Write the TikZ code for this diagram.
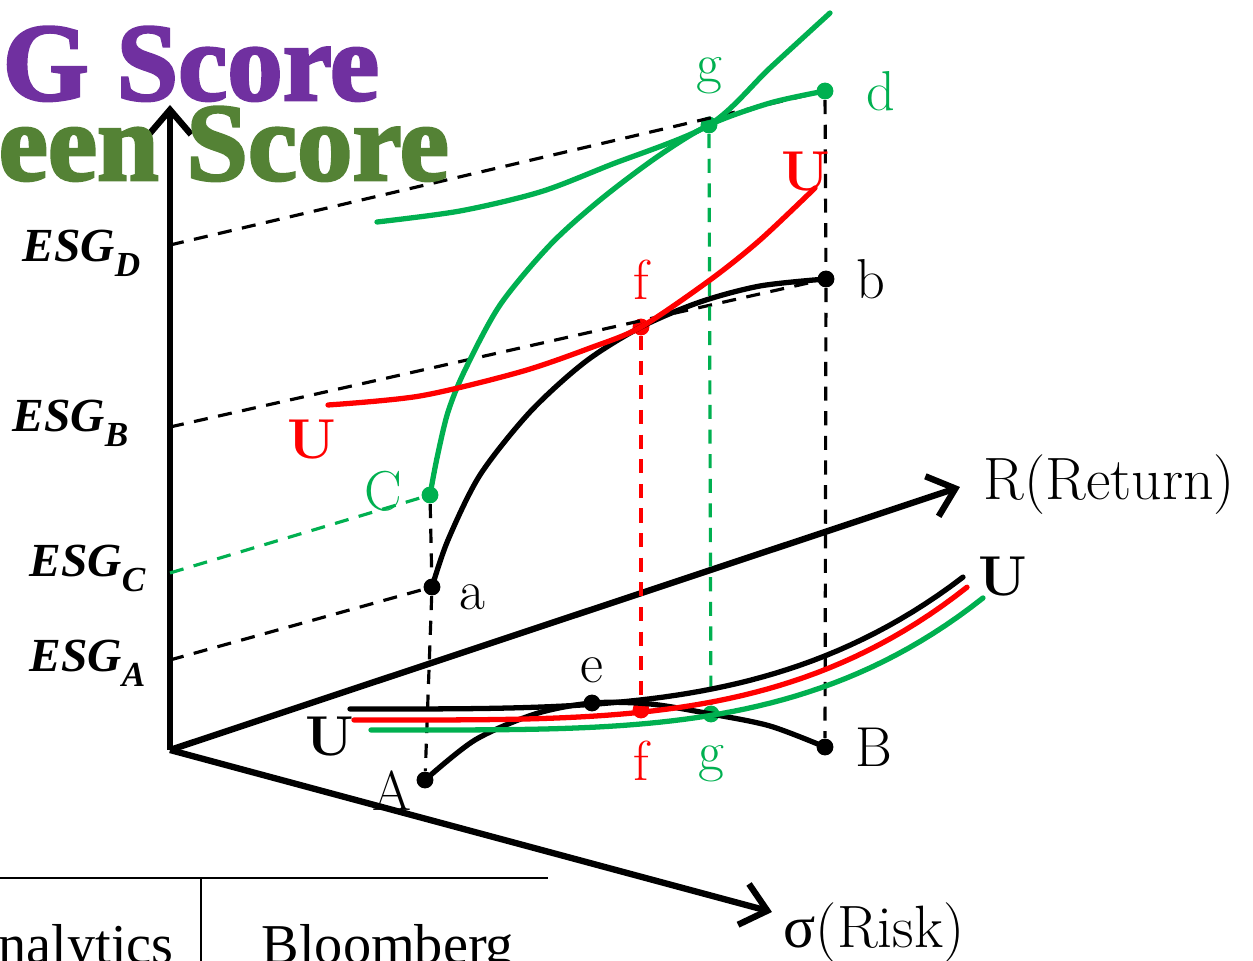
\documentclass[tikz,border=0pt]{standalone}
\usepackage{amsmath,amssymb}
\usepackage{fontspec}
\usepackage{tikz}
\usetikzlibrary{positioning, arrows.meta}
\newfontfamily\posterfont{Liberation Serif}[FakeBold=2.5]
\newfontfamily\timesfont{Liberation Serif}
\definecolor{esggreen}{RGB}{0,176,80}
\definecolor{esgred}{RGB}{255,0,0}
\definecolor{titlepurple}{RGB}{112,48,160}
\definecolor{titlegreen}{RGB}{84,130,53}
\newcommand{\esglevel}[1]{\timesfont\bfseries\itshape ESG\raisebox{-0.3em}{\fontsize{10}{10}\selectfont #1}}
\tikzset{
  axis/.style={line width=1.8pt, -{Straight Barb[length=7pt,width=12pt,line width=1.8pt]}},
  curve/.style={line width=1.5pt, line cap=round},
  guide/.style={line width=0.9pt, dash pattern=on 4pt off 3pt},
  dot/.style={circle, fill, inner sep=0pt, minimum size=4.8pt},
  ptlabel/.style={font=\fontsize{16}{18}\selectfont, inner sep=0pt},
  axislabel/.style={font=\fontsize{17}{19}\selectfont, inner sep=0pt, anchor=base west},
  ulabel/.style={font=\fontsize{16}{18}\selectfont\bfseries, inner sep=0pt},
  esglabel/.style={font=\fontsize{13.5}{15}\selectfont, inner sep=0pt, anchor=base east},
  title/.style={font=\posterfont\bfseries\fontsize{31.5}{34}\selectfont, inner sep=0pt, anchor=base west},
}

\begin{document}
\begin{tikzpicture}[x=0.01cm, y=-0.01cm, node distance=5pt]
  \useasboundingbox (0,0) rectangle (1253,961);

  % axes
  \coordinate (O) at (170,750);
  \coordinate (zEnd) at (170,105);
  \coordinate (rEnd) at (960,487);
  \coordinate (sEnd) at (772,912);
  \draw[axis] (O) -- (zEnd);
  \draw[axis] (O) -- (rEnd);
  \draw[axis] (O) -- (sEnd);
  \node[axislabel] (rLabel) at (983,500) {R(Return)};
  \node[axislabel] (sLabel) at (783,948) {{\timesfont σ}(Risk)};

  % ESG levels on the vertical axis
  \coordinate (esgD) at (170,245);
  \coordinate (esgB) at (170,427);
  \coordinate (esgC) at (170,573);
  \coordinate (esgA) at (170,660);
  \node[esglabel] (esgDLabel) at (141,262) {\esglevel{D}};
  \node[esglabel] (esgBLabel) at (129,432) {\esglevel{B}};
  \node[esglabel] (esgCLabel) at (146,577) {\esglevel{C}};
  \node[esglabel] (esgALabel) at (146,672) {\esglevel{A}};

  % points
  \node[dot] (A) at (425,780) {};
  \node[dot] (B) at (825,747) {};
  \node[dot] (e) at (592,703) {};
  \node[dot] (a) at (432,587) {};
  \node[dot] (b) at (826,279) {};
  \node[dot, esggreen] (c) at (430,495) {};
  \node[dot, esggreen] (d) at (825,91) {};
  \node[dot, esgred] (fTop) at (641,327) {};
  \node[dot, esgred] (fBot) at (641,710) {};
  \node[dot, esggreen] (gTop) at (709,125) {};
  \node[dot, esggreen] (gBot) at (711,714) {};

  % dashed guides
  \draw[guide] (esgD) -- (d);
  \draw[guide] (esgB) -- (b);
  \draw[guide] (esgA) -- (a);
  \draw[guide, esggreen] (esgC) -- (c);
  \draw[guide] (c) -- (a) -- (A);
  \draw[guide] (d) -- (b) -- (B);
  \draw[guide, esgred] (fTop) -- (fBot);
  \draw[guide, esggreen] (gTop) -- (gBot);

  % frontiers
  \draw[curve] plot[smooth] coordinates {(A.center) (475,740) (535,714) (e.center) (650,704) (gBot.center) (770,726) (B.center)};
  \draw[curve] plot[smooth] coordinates {(a.center) (448,540) (480,475) (530,412) (585,362) (fTop.center) (700,302) (760,286) (b.center)};
  \draw[curve, esggreen] plot[smooth] coordinates {(c.center) (437,458) (448,412) (465,370) (500,305) (550,245) (600,200) (657,157) (gTop.center) (770,103) (d.center)};

  % indifference curves
  \draw[curve, esggreen] plot[smooth] coordinates {(377,222) (460,211) (540,192) (610,165) (gTop.center) (770,68) (830,13)};
  \draw[curve, esgred] plot[smooth] coordinates {(328,405) (420,396) (520,372) (590,348) (fTop.center) (710,280) (760,240) (815,188)};
  \draw[curve] plot[domain=350:963, samples=50] (\x, {709-0.245*(max(\x-360,0)/100)^3.5});
  \draw[curve, esgred] plot[domain=354:967, samples=50] (\x, {720-0.271*(max(\x-380,0)/100)^3.5});
  \draw[curve, esggreen] plot[domain=371:983, samples=50] (\x, {730-0.276*(max(\x-400,0)/100)^3.5});

  % point labels
  \node[ptlabel, left=1pt of A, yshift=-3pt] (ALabel) {A};
  \node[ptlabel, right=6pt of B] (BLabel) {B};
  \node[ptlabel, above=3pt of e] (eLabel) {e};
  \node[ptlabel, right=5pt of a, yshift=-3pt] (aLabel) {a};
  \node[ptlabel, right=6pt of b] (bLabel) {b};
  \node[ptlabel, left=5pt of c, yshift=1pt, esggreen] (cLabel) {C};
  \node[ptlabel, right=9pt of d, esggreen] (dLabel) {d};
  \node[ptlabel, above=5pt of fTop, esgred] (fTopLabel) {f};
  \node[ptlabel, below=6pt of fBot, esgred] (fBotLabel) {f};
  \node[ptlabel, above=6pt of gTop, esggreen] (gTopLabel) {g};
  \node[ptlabel, below=6pt of gBot, esggreen] (gBotLabel) {g};

  \node[ulabel] (uBlack) at (330,737) {U};
  \node[ulabel] (uRight) at (1003,577) {U};
  \node[ulabel, esgred] (uRedLeft) at (312,440) {U};
  \node[ulabel, esgred] (uRedTop) at (806,172) {U};

  % titles
  \node[title, text=titlepurple] (esgTitle) at (2,100) {G Score};
  \node[title, text=titlegreen] (greenTitle) at (-2,180) {een Score};

  % table fragment
  \coordinate (ruleL) at (0,878);
  \coordinate (ruleR) at (548,878);
  \coordinate (sepTop) at (201,878);
  \coordinate (sepBot) at (201,961);
  \draw[line width=0.6pt] (ruleL) -- (ruleR);
  \draw[line width=0.5pt] (sepTop) -- (sepBot);
  \node[font=\timesfont\fontsize{16}{18}\selectfont, inner sep=0pt, anchor=base west] (cellL) at (-2,964) {nalytics};
  \node[font=\timesfont\fontsize{16}{18}\selectfont, inner sep=0pt, anchor=base west] (cellR) at (261,964) {Bloomberg};
\end{tikzpicture}
\end{document}
